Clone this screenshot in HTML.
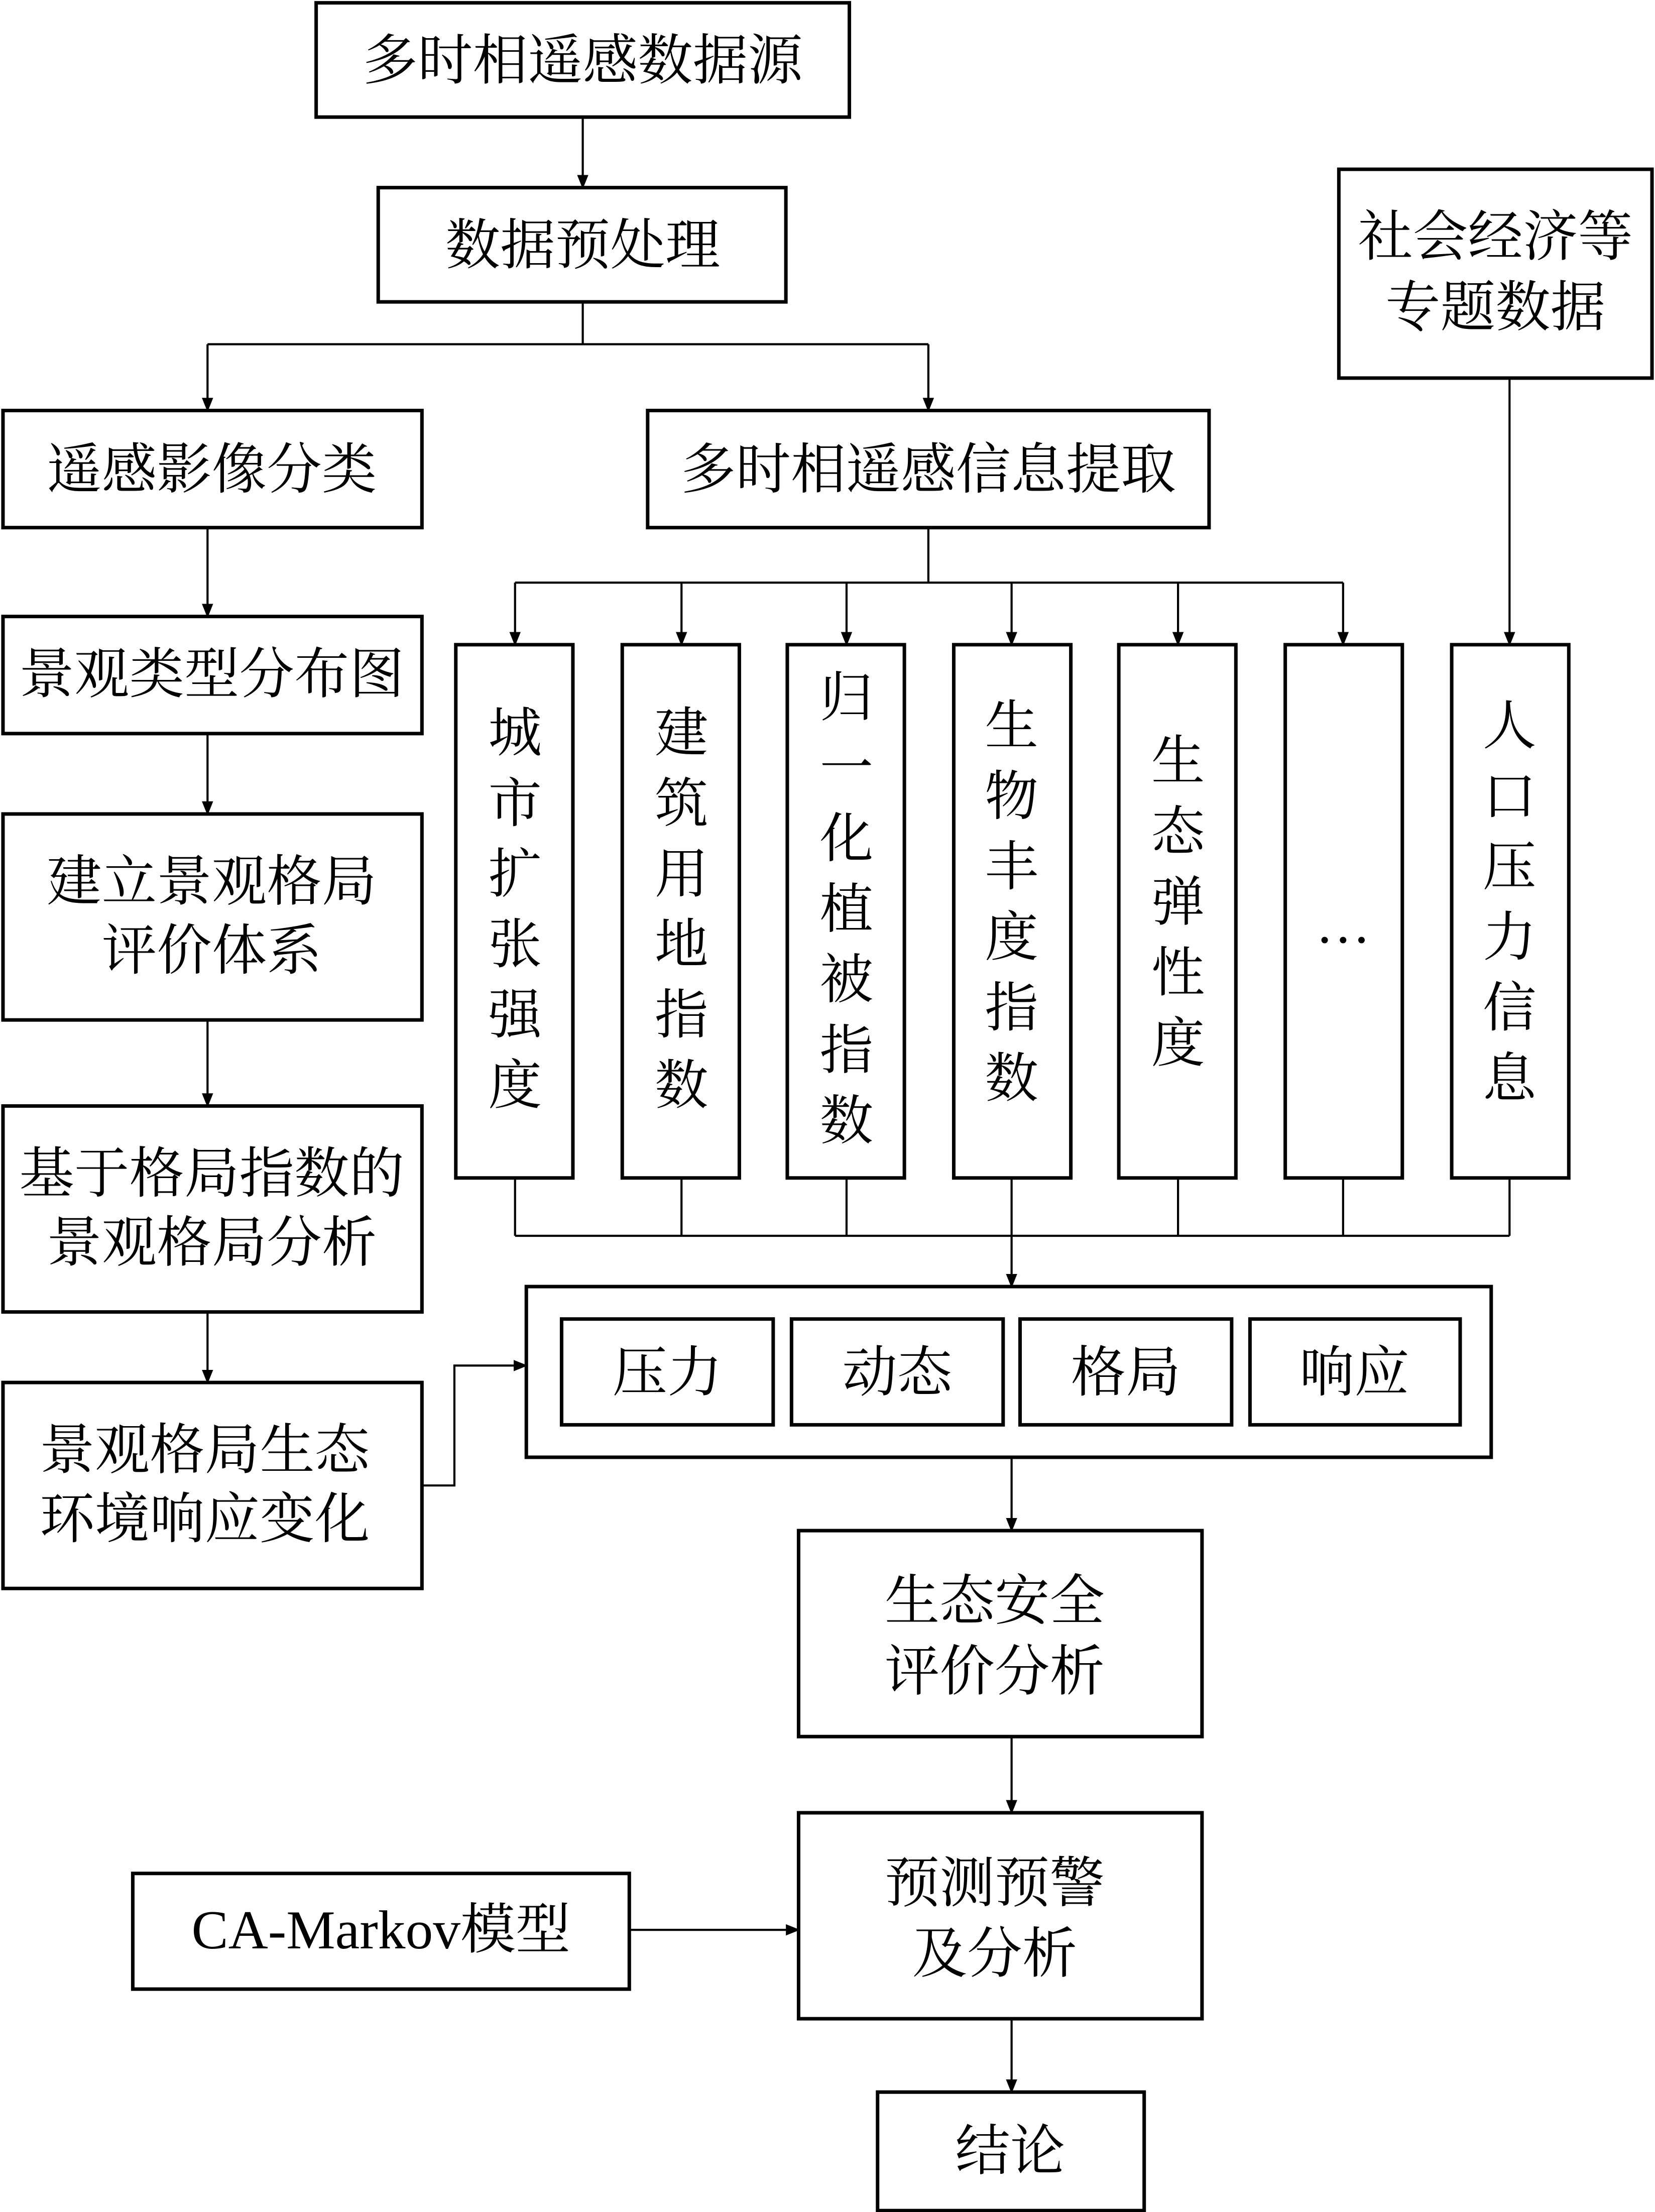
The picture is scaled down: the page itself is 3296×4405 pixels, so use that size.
<!DOCTYPE html>
<html><head><meta charset="utf-8"><style>
html,body{margin:0;padding:0;background:#fff;}
svg{display:block;}
text{font-family:"Liberation Serif","Noto Serif CJK SC",serif;fill:#000;}
</style></head><body>
<svg xmlns="http://www.w3.org/2000/svg" width="3296" height="4405" viewBox="0 0 1173 1568">
<defs><marker id="a" markerWidth="10" markerHeight="10" refX="9" refY="5" orient="auto" markerUnits="userSpaceOnUse"><path d="M0,1 L10,5 L0,9 Z" fill="#000"/></marker></defs>
<g fill="none" stroke="#000" stroke-width="2.5">
<rect x="224" y="2" width="378" height="81"/>
<rect x="268" y="133" width="289" height="81"/>
<rect x="949" y="120" width="222" height="148"/>
<rect x="2" y="291" width="297" height="83"/>
<rect x="459" y="291" width="398" height="83"/>
<rect x="2" y="437" width="297" height="83"/>
<rect x="2" y="577" width="297" height="146"/>
<rect x="2" y="784" width="297" height="146"/>
<rect x="2" y="980" width="297" height="146"/>
<rect x="323" y="457" width="83" height="378"/>
<rect x="441" y="457" width="83" height="378"/>
<rect x="558" y="457" width="83" height="378"/>
<rect x="676" y="457" width="83" height="378"/>
<rect x="793" y="457" width="83" height="378"/>
<rect x="911" y="457" width="83" height="378"/>
<rect x="1029" y="457" width="83" height="378"/>
<rect x="373" y="912" width="684" height="121"/>
<rect x="398" y="935" width="150" height="75"/>
<rect x="561" y="935" width="150" height="75"/>
<rect x="723" y="935" width="150" height="75"/>
<rect x="886" y="935" width="149" height="75"/>
<rect x="566" y="1085" width="286" height="146"/>
<rect x="566" y="1285" width="286" height="146"/>
<rect x="94" y="1328" width="352" height="82"/>
<rect x="622" y="1483" width="189" height="84"/>
</g>
<g fill="none" stroke="#000" stroke-width="1.5">
<path d="M413,83 V133" marker-end="url(#a)"/>
<path d="M413,214 V244 M147,244 H658"/>
<path d="M147,244 V291" marker-end="url(#a)"/>
<path d="M658,244 V291" marker-end="url(#a)"/>
<path d="M147,374 V437" marker-end="url(#a)"/>
<path d="M147,520 V577" marker-end="url(#a)"/>
<path d="M147,723 V784" marker-end="url(#a)"/>
<path d="M147,930 V980" marker-end="url(#a)"/>
<path d="M658,374 V413 M365,413 H952"/>
<path d="M365,413 V457" marker-end="url(#a)"/>
<path d="M483,413 V457" marker-end="url(#a)"/>
<path d="M600,413 V457" marker-end="url(#a)"/>
<path d="M717,413 V457" marker-end="url(#a)"/>
<path d="M835,413 V457" marker-end="url(#a)"/>
<path d="M952,413 V457" marker-end="url(#a)"/>
<path d="M1070,268 V457" marker-end="url(#a)"/>
<path d="M365,835 V876 M483,835 V876 M600,835 V876 M835,835 V876 M952,835 V876 M1070,835 V876 M365,876 H1070"/>
<path d="M717,835 V912" marker-end="url(#a)"/>
<path d="M299,1053 H322 V968 H373" marker-end="url(#a)"/>
<path d="M717,1033 V1085" marker-end="url(#a)"/>
<path d="M717,1231 V1285" marker-end="url(#a)"/>
<path d="M446,1368 H566" marker-end="url(#a)"/>
<path d="M717,1431 V1483" marker-end="url(#a)"/>
</g>
<g font-size="39" text-anchor="middle" dominant-baseline="central">
<text x="413" y="43">多时相遥感数据源</text>
<text x="413" y="174">数据预处理</text>
<text x="1060" y="168">社会经济等</text>
<text x="1060" y="218">专题数据</text>
<text x="150" y="333">遥感影像分类</text>
<text x="658" y="333">多时相遥感信息提取</text>
<text x="150" y="478">景观类型分布图</text>
<text x="150" y="625">建立景观格局</text>
<text x="150" y="674">评价体系</text>
<text x="150" y="832">基于格局指数的</text>
<text x="150" y="881">景观格局分析</text>
<text x="145" y="1028">景观格局生态</text>
<text x="145" y="1077">环境响应变化</text>
<text x="473" y="973">压力</text>
<text x="636" y="973">动态</text>
<text x="798" y="973">格局</text>
<text x="960" y="973">响应</text>
<text x="705" y="1135">生态安全</text>
<text x="705" y="1185">评价分析</text>
<text x="705" y="1335">预测预警</text>
<text x="705" y="1385">及分析</text>
<text x="270" y="1368">CA-Markov模型</text>
<text x="716" y="1525">结论</text>
<text x="952" y="655">…</text>
</g>
<g font-size="38" text-anchor="middle" dominant-baseline="central">
<text x="365" y="520">城</text><text x="365" y="570">市</text><text x="365" y="620">扩</text><text x="365" y="670">张</text><text x="365" y="720">强</text><text x="365" y="770">度</text>
<text x="483" y="520">建</text><text x="483" y="570">筑</text><text x="483" y="620">用</text><text x="483" y="670">地</text><text x="483" y="720">指</text><text x="483" y="770">数</text>
<text x="600" y="495">归</text><text x="600" y="545">一</text><text x="600" y="595">化</text><text x="600" y="645">植</text><text x="600" y="695">被</text><text x="600" y="745">指</text><text x="600" y="795">数</text>
<text x="717" y="515">生</text><text x="717" y="565">物</text><text x="717" y="615">丰</text><text x="717" y="665">度</text><text x="717" y="715">指</text><text x="717" y="765">数</text>
<text x="835" y="540">生</text><text x="835" y="590">态</text><text x="835" y="640">弹</text><text x="835" y="690">性</text><text x="835" y="740">度</text>
<text x="1070" y="515">人</text><text x="1070" y="565">口</text><text x="1070" y="615">压</text><text x="1070" y="665">力</text><text x="1070" y="715">信</text><text x="1070" y="765">息</text>
</g>
</svg>
</body></html>
